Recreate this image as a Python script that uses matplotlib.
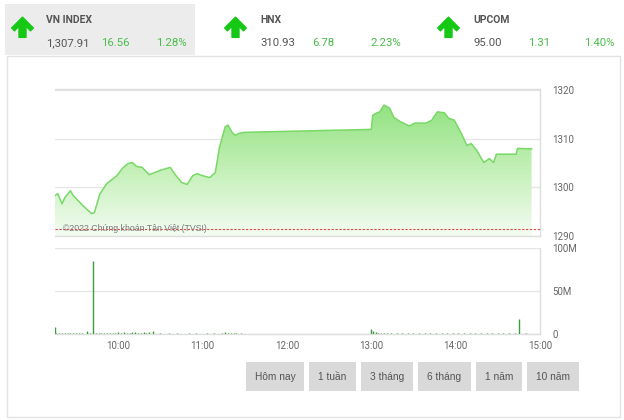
import matplotlib
matplotlib.use("Agg")
import matplotlib.pyplot as plt
import numpy as np
from matplotlib.patches import Rectangle, Polygon
from matplotlib.colors import LinearSegmentedColormap

# ---------------- data ----------------
indices = ["VN INDEX", "HNX", "UPCOM"]
index_values = ["1,307.91", "310.93", "95.00"]
index_changes = ["16.56", "6.78", "1.31"]
index_pcts = ["1.28%", "2.23%", "1.40%"]

price_times = ["09:15","09:17","09:20","09:22","09:26","09:28","09:35","09:41","09:43","09:47",
               "09:52","09:59","10:03","10:07","10:10","10:13","10:17","10:22","10:30","10:37",
               "10:40","10:45","10:49","10:53","10:56","11:00","11:05","11:09","11:12","11:16",
               "11:18","11:21","11:23","11:26","11:30","13:00","13:01","13:04","13:06","13:09",
               "13:13","13:16","13:20","13:27","13:31","13:39","13:43","13:47","13:52","13:55",
               "13:59","14:04","14:08","14:11","14:15","14:20","14:24","14:27","14:29","14:43",
               "14:44","14:54"]
price_vals = [1298.3,1298.7,1296.6,1297.9,1299.3,1298.3,1296.2,1294.6,1294.8,1298.7,
              1300.8,1302.4,1303.9,1304.9,1305.1,1304.3,1304.1,1302.6,1303.5,1304.1,
              1302.8,1301.0,1300.6,1302.4,1302.8,1302.4,1302.0,1303.0,1308.2,1312.4,
              1312.8,1311.3,1310.7,1311.1,1311.3,1311.9,1314.8,1315.3,1315.5,1316.9,
              1316.3,1314.4,1313.6,1312.6,1313.2,1313.2,1313.8,1315.5,1315.3,1314.2,
              1313.8,1311.1,1308.6,1309.0,1307.6,1305.1,1305.9,1305.1,1306.8,1306.8,
              1308.0,1307.91]
ref_value = 1291.35

vol_times = ["09:15","09:16","09:18","09:20","09:22","09:24","09:26","09:28","09:30","09:32",
             "09:34","09:38","09:40","09:42","09:44","09:46","09:48","09:50","09:52","09:54",
             "09:56","09:58","10:00","10:02","10:04","10:06","10:08","10:10","10:12","10:14",
             "10:16","10:18","10:20","10:22","10:25","10:30","10:36","10:42","10:50","10:55",
             "11:03","11:08","11:14","11:16","11:18","11:20","11:22","11:24","11:27",
             "13:00","13:01","13:03","13:05","13:07","13:09","13:11","13:14","13:18","13:22",
             "13:26","13:30","13:34","13:38","13:42","13:46","13:50","13:54","13:58","14:02",
             "14:06","14:10","14:14","14:18","14:22","14:26","14:30","14:34","14:38","14:42",
             "14:45","14:50"]
vol_vals = [8,1.5,1.2,1,1.2,1,1.2,1,1.2,1,
            1,3,1.2,85,1.5,1.2,1.5,1.2,1.5,1.2,
            1.5,1.5,2,1.5,2,1.5,1.5,2.5,2,1.5,
            1.5,2,1.5,2,3,1.5,1,1.2,1,1.2,
            1,1.2,1.5,2,1.5,1.5,1.2,1.5,1,
            6,3,2,1.5,1.5,1.2,1.5,1.2,1.5,1.2,
            1.5,1.2,1.5,1.2,1.5,1.2,1.5,1.2,1.2,1.5,
            1.2,1.5,1.2,1.5,1.2,1.2,1.5,1.2,1.2,1.5,
            18,1]

xtick_labels = ["10:00", "11:00", "12:00", "13:00", "14:00", "15:00"]
price_ticks = [1290, 1300, 1310, 1320]
vol_ticks = [0, 50, 100]
vol_tick_labels = ["0", "50M", "100M"]
buttons = ["Hôm nay", "1 tuần", "3 tháng", "6 tháng", "1 năm", "10 năm"]
watermark = "©2022 Chứng khoán Tân Việt (TVSI)"


def to_h(s):
    h, m = s.split(":")
    return int(h) + int(m) / 60.0


pt = np.array([to_h(t) for t in price_times])
pv = np.array(price_vals)
vt = np.array([to_h(t) for t in vol_times])
vv = np.array(vol_vals)
xt = [to_h(t) for t in xtick_labels]

# ---------------- figure ----------------
W, H = 624, 420
fig = plt.figure(figsize=(W / 100, H / 100), dpi=100)
fig.patch.set_facecolor("white")
FONT = "Roboto"
plt.rcParams["font.family"] = [FONT, "DejaVu Sans"]

bg = fig.add_axes([0, 0, 1, 1], zorder=0)
bg.set_xlim(0, W)
bg.set_ylim(H, 0)
bg.axis("off")

# header grey tab & panel border
bg.add_patch(Rectangle((5, 4), 190, 51, facecolor="#ececec", edgecolor="none"))
bg.add_patch(Rectangle((7, 55.5), 613, 361, facecolor="white", edgecolor="#e2e2e2", lw=1))

arrow_cx = [22.5, 235.5, 448.5]
name_x = [46, 260, 473]
val_x = [46, 260, 473]
chg_x = [101, 312, 528]
pct_x = [156, 370, 584]
GREEN = "#4cbb4c"
ARROW = "#14c814"
for i in range(3):
    c = arrow_cx[i]
    poly = [(c, 17), (c + 11, 28), (c + 8, 31), (c + 3.6, 26.5), (c + 3.6, 37.5),
            (c - 3.6, 37.5), (c - 3.6, 26.5), (c - 8, 31), (c - 11, 28)]
    bg.add_patch(Polygon(poly, closed=True, facecolor=ARROW, edgecolor=ARROW, lw=0.8,
                         joinstyle="round"))
    bg.text(name_x[i], 20, indices[i], fontsize=7.5, fontweight="bold", color="#555555",
            va="center", ha="left")
    bg.text(val_x[i], 43, index_values[i], fontsize=8.2, color="#555555", va="center", ha="left")
    bg.text(chg_x[i], 43, index_changes[i], fontsize=8.2, color=GREEN, va="center", ha="left")
    bg.text(pct_x[i], 43, index_pcts[i], fontsize=8.2, color=GREEN, va="center", ha="left")

# buttons
btn_x = [(246, 304), (309, 356), (361, 413), (418, 471), (476, 522), (527, 579)]
for (x0, x1), lab in zip(btn_x, buttons):
    bg.add_patch(Rectangle((x0, 362), x1 - x0, 29, facecolor="#d9d9d9", edgecolor="none"))
    bg.text((x0 + x1) / 2, 376.5, lab, fontsize=7.3, color="#555555", ha="center", va="center",
            family=["Liberation Sans", "DejaVu Sans"])

GRID = "#e6e6e6"
SP = "#dddddd"
TICKC = "#666666"

# ---------------- price axes ----------------
L = 55 / W
Wd = 485 / W
axp = fig.add_axes([L, 1 - 236 / H, Wd, (236 - 89) / H], zorder=2)
axp.patch.set_visible(False)
axp.set_xlim(9.25, 15.0)
axp.set_ylim(1290, 1320.2)

base = 1290
verts = [(pt[0], base)] + list(zip(pt, pv)) + [(pt[-1], base)]
clip = Polygon(verts, closed=True, facecolor="none", edgecolor="none")
axp.add_patch(clip)
cmap = LinearSegmentedColormap.from_list("g", ["#f4fcf2", "#c4f0b8", "#92e281"])
grad = np.linspace(0, 1, 256).reshape(-1, 1)
im = axp.imshow(grad, extent=[9.25, 15.0, 1290, 1317], origin="lower", aspect="auto",
                cmap=cmap, zorder=1)
im.set_clip_path(clip)
axp.plot(pt, pv, color="#78d966", lw=1.1, zorder=3)
axp.axhline(ref_value, color="#e04848", lw=0.8, ls=(0, (2, 1.5)), zorder=4)
axp.text(9.35, ref_value + 0.2, watermark, fontsize=6.3, color="#7a7a7a", va="center",
         ha="left", zorder=5, family=["Liberation Sans", "DejaVu Sans"])

axp.set_yticks(price_ticks)
axp.set_yticklabels([str(v) for v in price_ticks])
axp.yaxis.tick_right()
axp.tick_params(axis="y", length=0, pad=9, labelsize=7, labelcolor=TICKC)
axp.set_xticks(xt)
axp.tick_params(axis="x", length=0, labelbottom=False)
axp.grid(axis="y", color=GRID, lw=1)
axp.grid(axis="x", visible=False)
axp.set_axisbelow(True)
axp.spines["left"].set_visible(False)
for s in ["top", "right", "bottom"]:
    axp.spines[s].set_color(SP)
    axp.spines[s].set_linewidth(1)

# ---------------- volume axes ----------------
axv = fig.add_axes([L, 1 - 334 / H, Wd, 86 / H], zorder=2)
axv.patch.set_visible(False)
axv.set_xlim(9.25, 15.0)
axv.set_ylim(0, 100)
axv.vlines(vt, 0, vv, color="#3d9a3d", lw=1.0, zorder=3)
axv.set_yticks(vol_ticks)
axv.set_yticklabels(vol_tick_labels)
axv.yaxis.tick_right()
axv.tick_params(axis="y", length=0, pad=9, labelsize=7, labelcolor=TICKC)
axv.set_xticks(xt)
axv.set_xticklabels(xtick_labels)
axv.tick_params(axis="x", length=0, pad=5, labelsize=7, labelcolor=TICKC)
axv.grid(axis="y", color=GRID, lw=1)
axv.set_axisbelow(True)
axv.spines["left"].set_visible(False)
axv.spines["top"].set_visible(False)
for s in ["right", "bottom"]:
    axv.spines[s].set_color(SP)
    axv.spines[s].set_linewidth(1)

fig.savefig("out.png", dpi=100, facecolor="white")
